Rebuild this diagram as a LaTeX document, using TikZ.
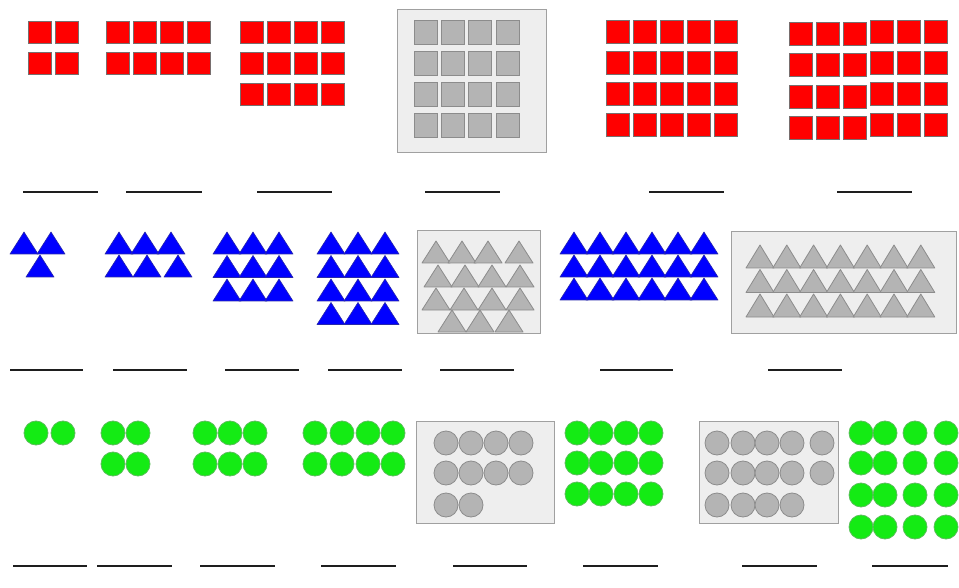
\documentclass[tikz,border=0pt]{standalone}
\usepackage{tikz}
\usetikzlibrary{calc}
\definecolor{sqred}{RGB}{255,0,0}
\definecolor{sqedge}{RGB}{120,110,110}
\definecolor{triblue}{RGB}{0,0,255}
\definecolor{triedge}{RGB}{40,40,170}
\definecolor{dotgreen}{RGB}{20,235,20}
\definecolor{dotedge}{RGB}{90,190,90}
\definecolor{shapegray}{RGB}{180,180,180}
\definecolor{shapeedge}{RGB}{140,140,140}
\definecolor{boxfill}{RGB}{238,238,238}
\definecolor{boxline}{RGB}{160,160,160}
\definecolor{answer}{RGB}{30,30,30}
\tikzset{
  redsq/.style={fill=sqred, draw=sqedge, line width=0.8pt},
  graysq/.style={fill=shapegray, draw=shapeedge, line width=0.8pt},
  bluetri/.style={fill=triblue, draw=triedge, line width=0.6pt, line join=round},
  graytri/.style={fill=shapegray, draw=shapeedge, line width=0.8pt, line join=round},
  greendot/.style={fill=dotgreen, draw=dotedge, line width=0.8pt},
  graydot/.style={fill=shapegray, draw=shapeedge, line width=0.8pt},
  hidebox/.style={fill=boxfill, draw=boxline, line width=1pt},
  blank/.style={draw=answer, line width=2pt}
}

\begin{document}
\begin{tikzpicture}[x=1pt, y=-1pt]
  \useasboundingbox (0,0) rectangle (959,588);

  % row 1: squares
  \foreach \c in {0,1} \foreach \r in {0,1}
    \draw[redsq] ({28+27*\c},{21+31*\r}) rectangle ++(23,22);
  \foreach \c in {0,...,3} \foreach \r in {0,1}
    \draw[redsq] ({106+27*\c},{21+31*\r}) rectangle ++(23,22);
  \foreach \c in {0,...,3} \foreach \r in {0,...,2}
    \draw[redsq] ({240+27*\c},{21+31*\r}) rectangle ++(23,22);
  \draw[hidebox] (397,10) rectangle (546,153);
  \foreach \c in {0,...,3} \foreach \r in {0,...,3}
    \draw[graysq] ({414+27.3*\c},{20+31.3*\r}) rectangle ++(23,24);
  \foreach \c in {0,...,4} \foreach \r in {0,...,3}
    \draw[redsq] ({606+27.2*\c},{20+31.3*\r}) rectangle ++(23,23);
  \foreach \c in {0,1,2} \foreach \r in {0,...,3}
    \draw[redsq] ({789+27*\c},{22.5+31.3*\r}) rectangle ++(23,23);
  \foreach \c in {3,4,5} \foreach \r in {0,...,3}
    \draw[redsq] ({789+27*\c},{20+31.3*\r}) rectangle ++(23,23);

  \foreach \a/\b in {23/98, 126/202, 257/332, 425/500, 649/724, 837/912}
    \draw[blank] (\a,192) -- (\b,192);

  % row 2: triangles
  \foreach \x/\y in {24/232, 51/232, 40/255}
    \draw[bluetri] (\x,\y) -- ++(-14,22) -- ++(28,0) -- cycle;
  \foreach \x in {119,145,171}
    \draw[bluetri] (\x,232) -- ++(-14,22) -- ++(28,0) -- cycle;
  \foreach \x in {119,147,178}
    \draw[bluetri] (\x,255) -- ++(-14,22) -- ++(28,0) -- cycle;
  \foreach \x in {227,253,279} \foreach \y in {232,255.5,279}
    \draw[bluetri] (\x,\y) -- ++(-14,22) -- ++(28,0) -- cycle;
  \foreach \x in {331,358,385} \foreach \y in {232,255.5,279,302.5}
    \draw[bluetri] (\x,\y) -- ++(-14,22) -- ++(28,0) -- cycle;
  \draw[hidebox] (417,231) rectangle (540,333);
  \foreach \x/\y in {436/241, 462/241, 488/241, 519/241,
                     438/265, 465/265, 492/265, 520/265,
                     436/288, 464/288, 492/288, 520/288,
                     452/310, 480/310, 509/310}
    \draw[graytri] (\x,\y) -- ++(-14,22) -- ++(28,0) -- cycle;
  \foreach \c in {0,...,5} \foreach \y in {232,255,278}
    \draw[bluetri] ({574+26*\c},\y) -- ++(-14,22) -- ++(28,0) -- cycle;
  \draw[hidebox] (731,232) rectangle (956,333);
  \foreach \c in {0,...,6} \foreach \y in {245,269.5,294}
    \draw[graytri] ({760+26.8*\c},\y) -- ++(-14,23) -- ++(28,0) -- cycle;

  \foreach \a/\b in {10/83, 113/187, 225/299, 328/402, 440/514, 600/673, 768/842}
    \draw[blank] (\a,370) -- (\b,370);

  % row 3: circles
  \foreach \x in {36,63}
    \draw[greendot] (\x,433) circle[radius=12];
  \foreach \x in {113,138} \foreach \y in {433,464}
    \draw[greendot] (\x,\y) circle[radius=12];
  \foreach \x in {205,230,255} \foreach \y in {433,464}
    \draw[greendot] (\x,\y) circle[radius=12];
  \foreach \x in {315,342,368,393} \foreach \y in {433,464}
    \draw[greendot] (\x,\y) circle[radius=12];
  \draw[hidebox] (416,421) rectangle (554,523);
  \foreach \x in {446,471,496,521} \foreach \y in {443,473}
    \draw[graydot] (\x,\y) circle[radius=12];
  \foreach \x in {446,471}
    \draw[graydot] (\x,505) circle[radius=12];
  \foreach \x in {577,601,626,651} \foreach \y in {433,463,494}
    \draw[greendot] (\x,\y) circle[radius=12];
  \draw[hidebox] (699,421) rectangle (838,523);
  \foreach \x in {717,743,767,792,822} \foreach \y in {443,473}
    \draw[graydot] (\x,\y) circle[radius=12];
  \foreach \x in {717,743,767,792}
    \draw[graydot] (\x,505) circle[radius=12];
  \foreach \x in {861,885,915,946} \foreach \y in {433,463,495,527}
    \draw[greendot] (\x,\y) circle[radius=12];

  \foreach \a/\b in {13/87, 97/172, 200/275, 321/396, 453/527, 583/658, 742/817, 872/948}
    \draw[blank] (\a,566) -- (\b,566);
\end{tikzpicture}
\end{document}
